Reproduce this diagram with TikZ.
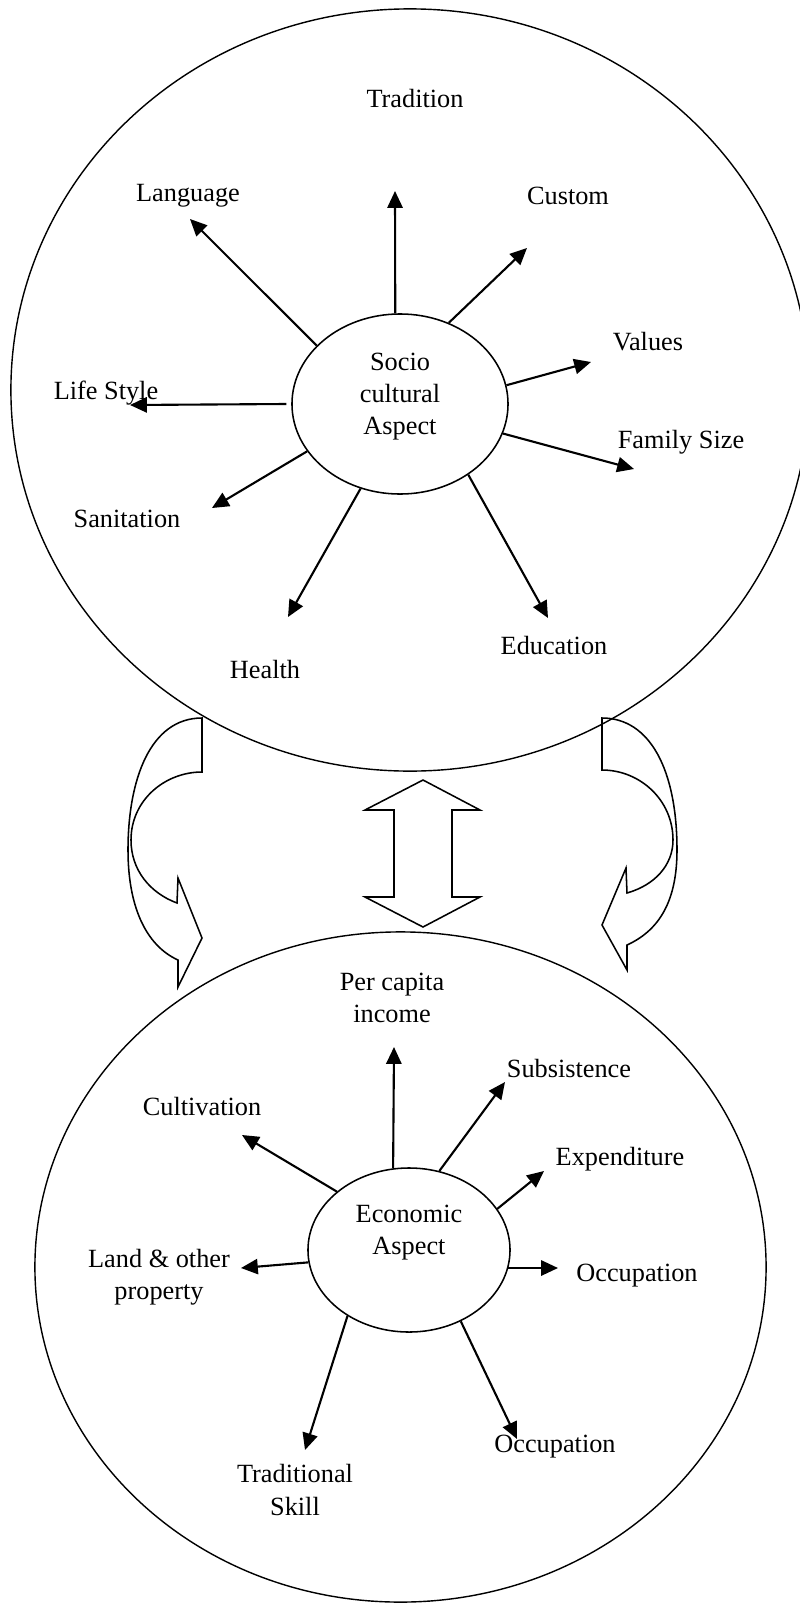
\documentclass[tikz,border=0pt]{standalone}
\usepackage{fontspec}
\setmainfont{Liberation Serif}
\usetikzlibrary{shapes.geometric,arrows.meta}
\begin{document}
\begin{tikzpicture}[x=0.025cm, y=-0.025cm,
    ringStyle/.style={ellipse, draw, line width=1pt, inner sep=0pt},
    hubStyle/.style={ellipse, draw, line width=1.1pt, inner sep=0pt},
    textStyle/.style={align=center, inner sep=0pt, font=\fontsize{18.7}{22.8}\selectfont},
    arrowStyle/.style={-{Triangle[length=0.42cm, width=0.38cm]}, line width=1.5pt},
    blockStyle/.style={draw, line width=1.1pt, line join=miter}]
    \useasboundingbox (0,0) rectangle (800,1604);

    \node[ringStyle, minimum width=19.95cm, minimum height=19.05cm] (socioRing) at (410, 390) {};
    \node[hubStyle, minimum width=5.4cm, minimum height=4.5cm] (socio) at (400, 404) {};
    \node[textStyle] (socioText) at (400, 397) {Socio\\cultural\\Aspect};

    \node[textStyle] (tradition)  at (415,  99) {Tradition};
    \node[textStyle] (language)   at (188, 196) {Language};
    \node[textStyle] (custom)     at (568, 196) {Custom};
    \node[textStyle] (values)     at (648, 342) {Values};
    \node[textStyle] (lifestyle)  at (106, 393) {Life Style};
    \node[textStyle] (familysize) at (681, 442) {Family Size};
    \node[textStyle] (sanitation) at (127, 519) {Sanitation};
    \node[textStyle] (health)     at (265, 669) {Health};
    \node[textStyle] (education)  at (554, 645) {Education};

    \coordinate (tipTradition)  at (395, 191);
    \coordinate (tipLanguage)   at (190, 219);
    \coordinate (tipCustom)     at (527, 248);
    \coordinate (tipValues)     at (591, 362);
    \coordinate (tipFamily)     at (634, 469);
    \coordinate (tipEducation)  at (548, 618);
    \coordinate (tipHealth)     at (288, 617);
    \coordinate (tipSanitation) at (212, 508);
    \coordinate (tipLifestyle)  at (130, 405);

    \draw[arrowStyle] (socio.93)  -- (tipTradition);
    \draw[arrowStyle] (socio.145) -- (tipLanguage);
    \draw[arrowStyle] (socio.59)  -- (tipCustom);
    \draw[arrowStyle] (socio.10)  -- (tipValues);
    \draw[arrowStyle] (socio.-16) -- (tipFamily);
    \draw[arrowStyle] (socio.-46) -- (tipEducation);
    \draw[arrowStyle] (socio.-115) -- (tipHealth);
    \draw[arrowStyle] (socio.207) -- (tipSanitation);
    \draw[arrowStyle] ([xshift=-0.12cm]socio.180) -- (tipLifestyle);

    \node[ringStyle, minimum width=18.275cm, minimum height=16.75cm] (econRing) at (400.5, 1267) {};
    \node[hubStyle, minimum width=5.05cm, minimum height=4.1cm] (econ) at (409, 1250) {};
    \node[textStyle] (econText) at (409, 1233) {Economic\\Aspect};

    \node[textStyle] (percapita)   at (392,  998) {Per capita\\income};
    \node[textStyle] (subsistence) at (569, 1068) {Subsistence};
    \node[textStyle] (cultivation) at (202, 1106) {Cultivation};
    \node[textStyle] (expenditure) at (620, 1159) {Expenditure};
    \node[textStyle] (land)        at (159, 1277) {Land \& other\\property};
    \node[textStyle] (occupationA) at (637, 1276) {Occupation};
    \node[textStyle] (occupationB) at (555, 1447) {Occupation};
    \node[textStyle] (traditional) at (295, 1490) {Traditional\\Skill};

    \coordinate (tipPercapita)    at (394, 1047);
    \coordinate (tipCultivation)  at (242, 1135);
    \coordinate (tipLand)         at (241, 1268);
    \coordinate (tipTraditional)  at (305, 1450);
    \coordinate (tipOccupationB)  at (517, 1439);
    \coordinate (tipOccupationA)  at (558, 1268);
    \coordinate (tipExpenditure)  at (544, 1171);
    \coordinate (tipSubsistence)  at (505, 1082);

    \draw[arrowStyle] (econ.101) -- (tipPercapita);
    \draw[arrowStyle] (econ.141) -- (tipCultivation);
    \draw[arrowStyle] (econ.187) -- (tipLand);
    \draw[arrowStyle] (econ.227) -- (tipTraditional);
    \draw[arrowStyle] (econ.-54) -- (tipOccupationB);
    \draw[arrowStyle] (econ.-11 |- tipOccupationA) -- (tipOccupationA);
    \draw[arrowStyle] (econ.25)  -- (tipExpenditure);
    \draw[arrowStyle] (econ.69)  -- (tipSubsistence);

    \draw[blockStyle] (423, 780) -- (480, 810) -- (452, 810) -- (452, 897) -- (480, 897)
        -- (423, 927) -- (365, 897) -- (394, 897) -- (394, 810) -- (365, 810) -- cycle;

    \draw[blockStyle] (202, 718) -- (202, 772)
        .. controls (165, 772) and (131, 800) .. (131, 840)
        .. controls (131, 870) and (150, 893) .. (177, 903)
        -- (178, 878) -- (202, 938) -- (178, 987) -- (178, 960)
        .. controls (145, 945) and (128, 905) .. (128, 850)
        .. controls (128, 780) and (150, 718) .. (202, 718) -- cycle;

    \draw[blockStyle] (602, 718) -- (602, 770)
        .. controls (640, 770) and (673, 800) .. (673, 840)
        .. controls (673, 865) and (655, 885) .. (627, 893)
        -- (626, 868) -- (602, 925) -- (627, 970) -- (627, 945)
        .. controls (660, 930) and (677, 900) .. (677, 850)
        .. controls (677, 770) and (650, 718) .. (602, 718) -- cycle;
\end{tikzpicture}
\end{document}
